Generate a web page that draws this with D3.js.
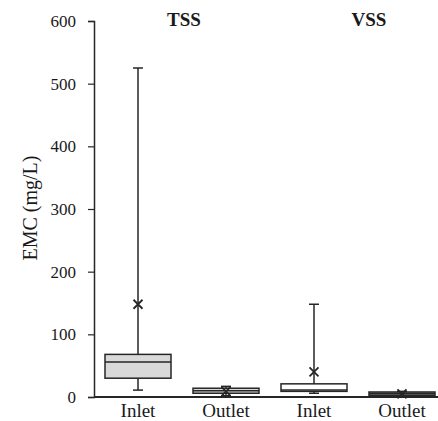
<!DOCTYPE html>
<html lang="en">
    <head>
        <meta charset="utf-8">
        <title>EMC box plot</title>
        <script type="text/javascript" src="https://d3js.org/d3.v7.min.js"></script>
    </head>
    <body style="margin:0">
        <style>
          svg text { font-family: "Liberation Serif", "Times New Roman", serif; fill: #1a1a1a; }
        </style>
        <script type="text/javascript">
            const categories = ["Inlet", "Outlet", "Inlet", "Outlet"]
            const groups = ["TSS", "VSS"]
            const mins    = [11, 2, 6, 1]
            const q1s     = [30, 6, 9, 2]
            const medians = [56, 10, 11, 5]
            const q3s     = [68, 14, 21, 8]
            const maxs    = [525, 17, 148, 9]
            const means   = [148, 9, 40, 5]
            const fills   = ["#d9d9d9", "#d9d9d9", "#ffffff", "#7f7f7f"]
            const y_ticks = [0, 100, 200, 300, 400, 500, 600]

            const w = 438
            const h = 421
            const m_left = 94
            const m_top = 21
            const m_bottom = 397
            const box_w = 66
            const cap_w = 10
            const line_col = "#262626"
            const serif = "'Liberation Serif', 'Times New Roman', serif"

            const svg = d3.select("body")
                          .append('svg')
                          .attr("width", w)
                          .attr("height", h)

            const x = d3.scaleBand()
                        .domain(d3.range(categories.length))
                        .range([m_left, m_left + 352])
            const y = d3.scaleLinear().domain([0, 600]).range([m_bottom, m_top])
            const cx = (i) => { return x(i) + x.bandwidth() / 2 }

            // y axis
            const y_axis = svg.append("g")
               .attr("transform", `translate(${m_left},0)`)
               .call(d3.axisLeft(y).tickValues(y_ticks).tickSize(6).tickPadding(12))
            y_axis.attr("font-family", serif)
            y_axis.select(".domain").attr("stroke", line_col).attr("stroke-width", 1.5)
            y_axis.selectAll(".tick line").attr("stroke", line_col).attr("stroke-width", 1.2)
            y_axis.selectAll(".tick text")
               .attr("font-size", 17)
               .attr("fill", "#1a1a1a")
               .style("font-family", serif)

            // x axis line and labels
            svg.append("line")
               .attr("x1", m_left).attr("x2", w)
               .attr("y1", y(0)).attr("y2", y(0))
               .attr("stroke", line_col).attr("stroke-width", 1.8)

            svg.selectAll("text.cat")
               .data(categories)
               .enter()
               .append("text")
               .attr("class", "cat")
               .text((d) => { return d })
               .attr("x", (d, i) => { return cx(i) })
               .attr("y", 417)
               .attr("text-anchor", "middle")
               .attr("font-size", 19)

            svg.append("text")
               .text("EMC (mg/L)")
               .attr("transform", "translate(37,208) rotate(-90)")
               .attr("text-anchor", "middle")
               .attr("font-size", 20)

            // group titles
            svg.selectAll("text.grp")
               .data(groups)
               .enter()
               .append("text")
               .attr("class", "grp")
               .text((d) => { return d })
               .attr("x", (d, i) => { return i == 0 ? 184 : 369 })
               .attr("y", 26)
               .attr("text-anchor", "middle")
               .attr("font-size", 19)
               .attr("font-weight", "bold")

            const boxes = svg.selectAll("g.box")
               .data(categories)
               .enter()
               .append("g")
               .attr("class", "box")
               .attr("stroke", line_col)
               .attr("stroke-width", 1.5)

            // whisker stem
            boxes.append("line")
               .attr("x1", (d, i) => { return cx(i) }).attr("x2", (d, i) => { return cx(i) })
               .attr("y1", (d, i) => { return y(mins[i]) }).attr("y2", (d, i) => { return y(maxs[i]) })
            // caps
            boxes.append("line")
               .attr("x1", (d, i) => { return cx(i) - cap_w / 2 }).attr("x2", (d, i) => { return cx(i) + cap_w / 2 })
               .attr("y1", (d, i) => { return y(maxs[i]) }).attr("y2", (d, i) => { return y(maxs[i]) })
            boxes.append("line")
               .attr("x1", (d, i) => { return cx(i) - cap_w / 2 }).attr("x2", (d, i) => { return cx(i) + cap_w / 2 })
               .attr("y1", (d, i) => { return y(mins[i]) }).attr("y2", (d, i) => { return y(mins[i]) })
            // box
            boxes.append("rect")
               .attr("x", (d, i) => { return cx(i) - box_w / 2 })
               .attr("y", (d, i) => { return y(q3s[i]) })
               .attr("width", box_w)
               .attr("height", (d, i) => { return y(q1s[i]) - y(q3s[i]) })
               .attr("fill", (d, i) => { return fills[i] })
            // median
            boxes.append("line")
               .attr("x1", (d, i) => { return cx(i) - box_w / 2 }).attr("x2", (d, i) => { return cx(i) + box_w / 2 })
               .attr("y1", (d, i) => { return y(medians[i]) }).attr("y2", (d, i) => { return y(medians[i]) })
            // mean marker
            boxes.append("path")
               .attr("d", (d, i) => {
                   const mx = cx(i), my = y(means[i]), s = 4.5
                   return `M${mx - s},${my - s}L${mx + s},${my + s}M${mx - s},${my + s}L${mx + s},${my - s}`
               })
               .attr("stroke-width", 1.8)
               .attr("fill", "none")
        </script>
    </body>
</html>
